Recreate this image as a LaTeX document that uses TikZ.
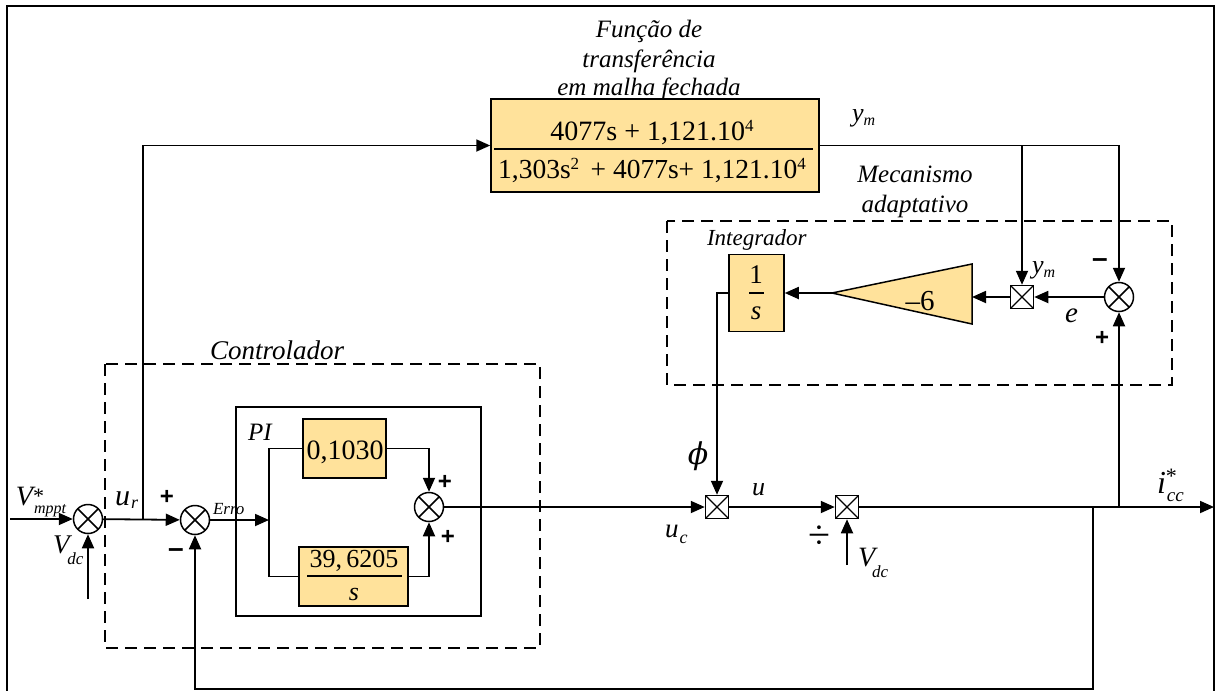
\documentclass[tikz,border=0pt]{standalone}
\usepackage{fontspec}
\setmainfont{Liberation Serif}
\newfontfamily\sansf{Liberation Sans}
\newfontfamily\phif{DejaVu Serif}
\usetikzlibrary{arrows.meta}
\definecolor{blk}{RGB}{255,226,155}
\newcommand\fs[1]{\fontsize{#1}{#1}\selectfont}
\newcommand\upidx[1]{\raisebox{9pt}{\fs{17}#1}}
\newcommand\lbl[8]{{\fs{#1}\itshape #2}\rlap{\raisebox{#4}{\fs{22}\upshape #3}}\kern#7\raisebox{-#8}{\fs{#6}\itshape #5}}
\tikzset{
  conn/.style={line width=1.8pt,-{Triangle[length=14pt,width=12pt]}},
  wire/.style={line width=1.8pt},
  blockbox/.style={draw,line width=1.5pt,fill=blk,inner sep=0pt},
  sumnode/.style={draw,circle,line width=1.5pt,minimum size=29pt,inner sep=0pt,
    path picture={\draw[line width=1.5pt] (path picture bounding box.north west)--(path picture bounding box.south east)
      (path picture bounding box.north east)--(path picture bounding box.south west);}},
  mulnode/.style={draw,rectangle,line width=1.5pt,minimum size=23pt,inner sep=0pt,fill=white,
    path picture={\draw[line width=1.3pt] (path picture bounding box.north west)--(path picture bounding box.south east)
      (path picture bounding box.north east)--(path picture bounding box.south west);}},
  dashbox/.style={draw,dash pattern=on 12pt off 7pt,line width=1.5pt},
  txt/.style={inner sep=0pt,outer sep=0pt},
  sgn/.style={txt,font=\sansf\bfseries\fs{24}},
  msgn/.style={txt,font=\sansf\bfseries\fs{28}},
}
\begin{document}
\begin{tikzpicture}[x=1pt,y=-1pt]
\useasboundingbox (0,0) rectangle (1219,691);
% outer frame
\draw[line width=1.2pt] (7,691) -- (7,6) -- (1214,6) -- (1214,691);
% dashed groups
\draw[dashbox] (105,364) rectangle (540,648);
\draw[dashbox] (667,221) rectangle (1172,385);
\node[draw,line width=1.5pt,minimum width=245pt,minimum height=209pt,inner sep=0pt] (pibox) at (358.5,511.5) {};

% titles
\node[txt,anchor=base,font=\fs{25}\itshape] (t1) at (649,37) {Função de};
\node[txt,anchor=base,font=\fs{25}\itshape] (t2) at (649,67) {transferência};
\node[txt,anchor=base,font=\fs{25}\itshape] (t3) at (649,95) {em malha fechada};
\node[txt,anchor=base,font=\fs{25}\itshape] (t4) at (915,182) {Mecanismo};
\node[txt,anchor=base,font=\fs{25}\itshape] (t5) at (915,212) {adaptativo};
\node[txt,anchor=base west,font=\fs{23}\itshape] (t6) at (707,245) {Integrador};
\node[txt,anchor=base west,font=\fs{27}\itshape] (t7) at (210,359) {Controlador};
\node[txt,anchor=base west,font=\fs{25}\itshape] (t8) at (248,440) {PI};

% blocks
\node[blockbox,minimum width=328pt,minimum height=93pt] (tf) at (655,145.5) {};
\node[txt,anchor=base,font=\fs{28}] (tfn) at (652,140) {4077s + 1,121.10\upidx{4}};
\node[txt,anchor=base,font=\fs{27.5}] (tfd) at (652,178) {1,303s\upidx{2} \,+ 4077s+ 1,121.10\upidx{4}};
\draw[line width=1.4pt] (494,149) -- (813,149);

\node[blockbox,minimum width=83pt,minimum height=59pt] (kp) at (344.5,448.5) {};
\node[txt,anchor=base,font=\fs{28}] (kpt) at (345,459) {0,1030};
\node[blockbox,minimum width=109pt,minimum height=59pt] (ki) at (353.5,576.5) {};
\node[txt,anchor=base,font=\fs{26}] (kin) at (354,567) {39,\,6205};
\draw[line width=1.3pt] (307,576) -- (402,576);
\node[txt,anchor=base,font=\fs{26}\itshape] (kis) at (354,600) {s};

\node[blockbox,minimum width=55pt,minimum height=77pt] (int) at (756.5,293) {};
\node[txt,anchor=base,font=\fs{27}] (intn) at (756,283) {1};
\draw[line width=1.3pt] (749,293) -- (764,293);
\node[txt,anchor=base,font=\fs{27}\itshape] (ints) at (756,319) {s};

\draw[line width=1.5pt,fill=blk] (972,264) -- (972,324) -- (832,293) -- cycle;
\coordinate (gin) at (972,297);
\coordinate (gout) at (832,293);
\node[txt,anchor=base,font=\fs{29}] (gt) at (920,310) {–6};

% summing junctions and multipliers
\node[sumnode] (s1) at (88,519) {};
\node[sumnode] (s2) at (195,520) {};
\node[sumnode] (s3) at (429,507) {};
\node[sumnode] (s4) at (1119,297) {};
\node[mulnode] (m1) at (717,507) {};
\node[mulnode] (m2) at (847,507) {};
\node[mulnode] (m3) at (1022,297) {};

% coordinates
\coordinate (vin) at (10,519);
\coordinate (vdc1) at (88,599);
\coordinate (ur) at (143,519);
\coordinate (br) at (269,520);
\coordinate (brt) at (269,448.5);
\coordinate (brb) at (269,576.5);
\coordinate (vdc2) at (847,565);
\coordinate (out) at (1214,507);
\coordinate (j1) at (1119,507);
\coordinate (j2) at (1093,507);
\coordinate (fb) at (1093,689);
\coordinate (ymb) at (1022,145.5);

% connectors
\draw[conn] (vin) -- (s1);
\draw[conn] (vdc1) -- (s1);
\draw[conn] (s1) -- (s2);
\draw[conn] (ur) |- (tf.west);
\draw[conn] (s2) -- (br);
\draw[wire] (kp.west) -- (brt) -- (brb) -- (ki.west);
\draw[conn] (kp.east) -| (s3.north);
\draw[conn] (ki.east) -| (s3.south);
\draw[conn] (s3) -- (m1);
\draw[conn] (m1) -- (m2);
\draw[conn] (m2) -- (out);
\draw[conn] (vdc2) -- (m2);
\draw[conn] (j1) -- (s4);
\draw[conn] (j2) -- (fb) -| (s2.south);
\draw[conn] (tf.east) -| (s4.north);
\draw[conn] (ymb) -- (m3.north);
\draw[conn] (s4) -- (m3);
\draw[conn] (m3) -- (gin);
\draw[conn] (gout) -- (int.east);
\draw[conn] (int.west) -| (m1.north);

% labels
\node[txt,anchor=base west] (lvm) at (16,505) {\lbl{28}{V}{*}{2pt}{mppt}{16}{1pt}{8pt}};
\node[txt,anchor=base west] (lvd1) at (53,553) {\lbl{27}{V}{}{0pt}{dc}{17}{-2pt}{11pt}};
\node[txt,anchor=base west] (lur) at (115,505) {\lbl{30}{u}{}{0pt}{r}{18}{1pt}{3pt}};
\node[txt,anchor=base west,font=\fs{17}\itshape] (lerr) at (213,514) {Erro};
\node[txt,font=\phif\itshape\fs{30}] (lphi) at (698,456) {ϕ};
\node[txt,anchor=base west,font=\fs{26}\itshape] (lu) at (752,495) {u};
\node[txt,anchor=base west] (luc) at (665,537) {\lbl{27}{u}{}{0pt}{c}{18}{1pt}{6pt}};
\node[txt,font=\fs{40}] (ldiv) at (819,537) {÷};
\node[txt,anchor=base west] (lvd2) at (858,566) {\lbl{28}{V}{}{0pt}{dc}{17}{-3pt}{11pt}};
\node[txt,anchor=base west] (licc) at (1157,493) {\lbl{32}{i}{*}{10pt}{cc}{19}{1pt}{8pt}};
\node[txt,anchor=base west] (lym1) at (852,121) {\lbl{26}{y}{}{0pt}{m}{16}{0pt}{4pt}};
\node[txt,anchor=base west] (lym2) at (1032,273) {\lbl{26}{y}{}{0pt}{m}{16}{0pt}{4pt}};
\node[txt,anchor=base west,font=\fs{29}\itshape] (le) at (1065,322) {e};

% signs
\node[sgn] (p1) at (167,497) {+};
\node[msgn] (n1) at (176,553) {–};
\node[sgn] (p2) at (445,482) {+};
\node[sgn] (p3) at (448,537) {+};
\node[msgn] (n2) at (1100,263) {–};
\node[sgn] (p4) at (1102,338) {+};
\end{tikzpicture}
\end{document}
